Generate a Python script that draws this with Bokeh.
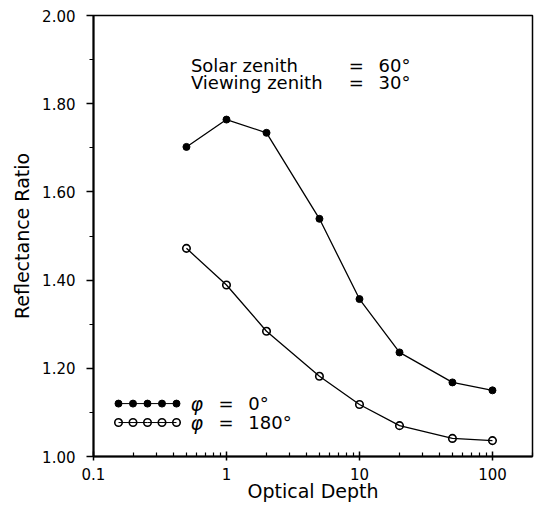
from bokeh.plotting import figure
from bokeh.models import Range1d, FixedTicker, CustomJSTickFormatter, PrintfTickFormatter, Label
from bokeh.embed import file_html
from bokeh.resources import INLINE

# ---- data ----
depth = [0.5, 1, 2, 5, 10, 20, 50, 100]
ratio_phi0 = [1.702, 1.764, 1.734, 1.539, 1.357, 1.236, 1.168, 1.150]
ratio_phi180 = [1.472, 1.389, 1.284, 1.182, 1.118, 1.070, 1.041, 1.036]
x_ticks = [0.1, 1, 10, 100]
y_ticks = [1.0, 1.2, 1.4, 1.6, 1.8, 2.0]
y_minor = [1.1, 1.3, 1.5, 1.7, 1.9]
series_labels = ["0°", "180°"]

FONT = "DejaVu Sans"

p = figure(x_axis_type="log", x_range=Range1d(0.1, 200), y_range=Range1d(1.0, 2.0),
           frame_width=439, frame_height=441, output_backend="svg", toolbar_location=None,
           min_border_left=93, min_border_right=5, min_border_top=15, min_border_bottom=5,
           background_fill_color="white", border_fill_color="white")
p.grid.visible = False
p.outline_line_color = "black"
p.outline_line_width = 1.5

# x axis
x_minor = [m * d for d in [0.1, 1, 10, 100] for m in range(2, 10) if m * d <= 200]
p.xaxis.ticker = FixedTicker(ticks=x_ticks, minor_ticks=x_minor)
p.xaxis.formatter = CustomJSTickFormatter(code="return tick.toString();")
p.xaxis.axis_label = "Optical Depth"
p.xaxis.major_tick_in = 5
p.xaxis.major_tick_out = 4
p.xaxis.minor_tick_in = 4
p.xaxis.minor_tick_out = 0
p.xaxis.major_label_standoff = 7
p.xaxis.axis_label_standoff = -3

# y axis
p.yaxis.ticker = FixedTicker(ticks=y_ticks, minor_ticks=y_minor)
p.yaxis.formatter = PrintfTickFormatter(format="%.2f")
p.yaxis.axis_label = "Reflectance Ratio"
p.yaxis.major_tick_in = 0
p.yaxis.major_tick_out = 7
p.yaxis.minor_tick_in = 0
p.yaxis.minor_tick_out = 4
p.yaxis.major_label_standoff = 11
p.yaxis.axis_label_standoff = 6

for ax in (p.xaxis, p.yaxis):
    ax.axis_line_width = 2
    ax.axis_line_color = "black"
    ax.major_tick_line_width = 1.5
    ax.minor_tick_line_width = 1.2
    ax.major_label_text_font = FONT
    ax.major_label_text_font_size = "15px"
    ax.major_label_text_color = "black"
    ax.axis_label_text_font = FONT
    ax.axis_label_text_font_size = "19px"
    ax.axis_label_text_font_style = "normal"
    ax.axis_label_text_color = "black"

# series
p.line(depth, ratio_phi0, line_color="black", line_width=1.3)
p.scatter(depth, ratio_phi0, size=7, marker="circle", fill_color="black", line_color="black")
p.line(depth, ratio_phi180, line_color="black", line_width=1.3)
p.scatter(depth, ratio_phi180, size=7.5, marker="circle", fill_alpha=0, line_color="black", line_width=1.6)

# annotation
ann = [("Solar zenith", "60°", 1.887), ("Viewing zenith", "30°", 1.848)]
for name, val, yy in ann:
    p.add_layout(Label(x=0.54, y=yy, text=name, text_font=FONT, text_font_size="18px",
                       text_baseline="alphabetic", text_color="black"))
    p.add_layout(Label(x=8.3, y=yy, text="=", text_font=FONT, text_font_size="18px",
                       text_baseline="alphabetic", text_color="black"))
    p.add_layout(Label(x=13.9, y=yy, text=val, text_font=FONT, text_font_size="18px",
                       text_baseline="alphabetic", text_color="black"))

# custom legend (five markers per row)
leg_x = [10 ** (-0.812 + 0.109 * i) for i in range(5)]
leg_rows = [1.120, 1.077]
for k, (yy, lab) in enumerate(zip(leg_rows, series_labels)):
    ys = [yy] * len(leg_x)
    p.line(leg_x, ys, line_color="black", line_width=1.0)
    if k == 0:
        p.scatter(leg_x, ys, size=7, marker="circle", fill_color="black", line_color="black")
    else:
        p.scatter(leg_x, ys, size=7.5, marker="circle", fill_alpha=0, line_color="black", line_width=1.6)
    p.add_layout(Label(x=0.537, y=yy, text="φ", text_font=FONT, text_font_size="19px",
                       text_font_style="italic", text_baseline="middle", text_color="black"))
    p.add_layout(Label(x=0.87, y=yy, text="=", text_font=FONT, text_font_size="18px",
                       text_baseline="middle", text_color="black"))
    p.add_layout(Label(x=1.46, y=yy, text=lab, text_font=FONT, text_font_size="18px",
                       text_baseline="middle", text_color="black"))

open("out.html", "w").write(file_html(p, INLINE))
